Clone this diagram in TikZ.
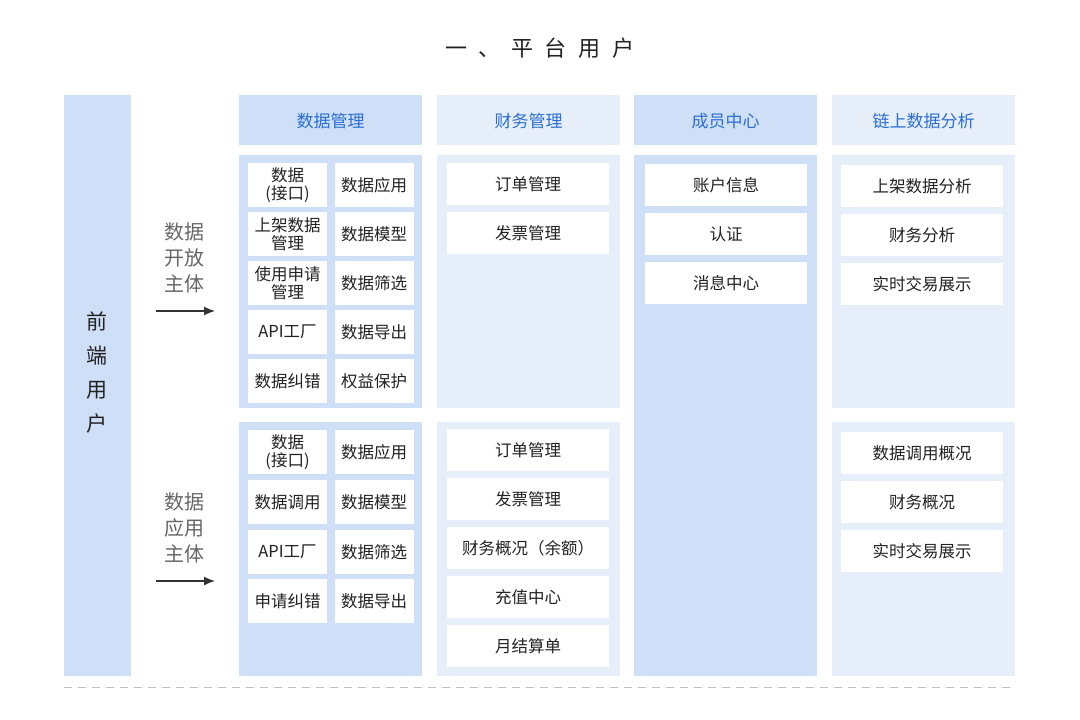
\documentclass[tikz,border=0pt]{standalone}
\usepackage{fontspec}
\setmainfont{Noto Sans CJK SC}
\usetikzlibrary{positioning, arrows.meta}
\definecolor{bluedark}{HTML}{CEDFF7}
\definecolor{bluelight}{HTML}{E6EEF9}
\definecolor{headtext}{HTML}{2B6FD3}
\definecolor{bodytext}{HTML}{222222}
\tikzstyle{head}=[text=headtext, font=\fontsize{17}{19}\selectfont]
\tikzstyle{cell}=[fill=white, inner sep=0pt, text=bodytext, align=center, font=\fontsize{16.5}{18}\selectfont]
\tikzstyle{small}=[cell, minimum width=79pt, minimum height=44pt]
\tikzstyle{wide}=[cell, minimum width=162pt, minimum height=42pt]
\tikzstyle{side}=[text=gray!80!black, align=center, font=\fontsize{20}{26}\selectfont]
\tikzstyle{arrow}=[gray!40!black, line width=1.2pt, -{Latex[length=11pt, width=9pt]}]

\begin{document}
\begin{tikzpicture}[x=1pt, y=-1pt]
      \useasboundingbox (0,0) rectangle (1080,720);
      \node[font=\fontsize{22}{24}\selectfont, text=bodytext] (title) at (540,48) {一\hspace{12pt}、\hspace{10pt}平\hspace{12pt}台\hspace{12pt}用\hspace{12pt}户};

      % background panels
      \fill[bluedark] (64,95) rectangle (131,676);
      \node[text=bodytext, align=center, font=\fontsize{21}{34}\selectfont] (front) at (97,373) {前\\端\\用\\户};
      \fill[bluedark] (239,95) rectangle (422,145);
      \fill[bluelight] (437,95) rectangle (620,145);
      \fill[bluedark] (634,95) rectangle (817,145);
      \fill[bluelight] (832,95) rectangle (1015,145);
      \fill[bluedark] (239,155) rectangle (422,408);
      \fill[bluedark] (239,422) rectangle (422,676);
      \fill[bluelight] (437,155) rectangle (620,408);
      \fill[bluelight] (437,422) rectangle (620,676);
      \fill[bluedark] (634,155) rectangle (817,676);
      \fill[bluelight] (832,155) rectangle (1015,408);
      \fill[bluelight] (832,422) rectangle (1015,676);

      \node[head] (h1) at (330.5,121) {数据管理};
      \node[head] (h2) at (528.5,121) {财务管理};
      \node[head] (h3) at (725.5,121) {成员中心};
      \node[head] (h4) at (923.5,121) {链上数据分析};

      % side labels
      \node[side] (open) at (184,258) {数据\\开放\\主体};
      \coordinate (open-a) at (156,311);
      \coordinate (open-b) at (215,311);
      \draw[arrow] (open-a) to (open-b);
      \node[side] (use) at (184,528) {数据\\应用\\主体};
      \coordinate (use-a) at (156,581);
      \coordinate (use-b) at (215,581);
      \draw[arrow] (use-a) to (use-b);

      % data management, upper
      \node[small] (a1) at (287.5,185) {数据\\(接口)};
      \node[small] (a2) at (374,185) {数据应用};
      \node[small] (a3) at (287.5,234) {上架数据\\管理};
      \node[small] (a4) at (374,234) {数据模型};
      \node[small] (a5) at (287.5,283) {使用申请\\管理};
      \node[small] (a6) at (374,283) {数据筛选};
      \node[small] (a7) at (287.5,332) {API工厂};
      \node[small] (a8) at (374,332) {数据导出};
      \node[small] (a9) at (287.5,381) {数据纠错};
      \node[small] (a10) at (374,381) {权益保护};

      % data management, lower
      \node[small] (b1) at (287.5,452) {数据\\(接口)};
      \node[small] (b2) at (374,452) {数据应用};
      \node[small] (b3) at (287.5,502) {数据调用};
      \node[small] (b4) at (374,502) {数据模型};
      \node[small] (b5) at (287.5,552) {API工厂};
      \node[small] (b6) at (374,552) {数据筛选};
      \node[small] (b7) at (287.5,601) {申请纠错};
      \node[small] (b8) at (374,601) {数据导出};

      % finance
      \node[wide] (c1) at (528,184) {订单管理};
      \node[wide] (c2) at (528,233) {发票管理};
      \node[wide] (d1) at (528,450) {订单管理};
      \node[wide] (d2) at (528,499) {发票管理};
      \node[wide] (d3) at (528,548) {财务概况（余额）};
      \node[wide] (d4) at (528,597) {充值中心};
      \node[wide] (d5) at (528,646) {月结算单};

      % members
      \node[wide] (e1) at (726,185) {账户信息};
      \node[wide] (e2) at (726,234) {认证};
      \node[wide] (e3) at (726,283) {消息中心};

      % on-chain analysis
      \node[wide] (f1) at (922,186) {上架数据分析};
      \node[wide] (f2) at (922,235) {财务分析};
      \node[wide] (f3) at (922,284) {实时交易展示};
      \node[wide] (g1) at (922,453) {数据调用概况};
      \node[wide] (g2) at (922,502) {财务概况};
      \node[wide] (g3) at (922,551) {实时交易展示};

      \coordinate (dash-a) at (64,687);
      \coordinate (dash-b) at (1015,687);
      \draw[gray!50, line width=1pt, dash pattern=on 8pt off 6pt] (dash-a) to (dash-b);
    \end{tikzpicture}
\end{document}
